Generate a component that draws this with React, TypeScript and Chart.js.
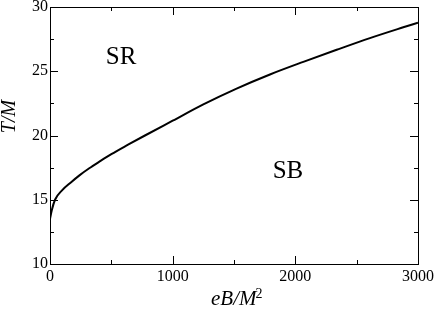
import { useEffect, useRef } from "react";
import { Chart, registerables } from "chart.js";

Chart.register(...registerables);

// Phase boundary T/M versus eB/M^2
const fieldValues = [0, 15, 41, 100, 170, 240, 320, 400, 500, 640, 774, 1000, 1250, 1521, 1793, 2065, 2337, 2608, 2880, 3000];
const temperatureValues = [13.5, 14.2, 15.0, 15.75, 16.35, 16.9, 17.45, 17.95, 18.55, 19.3, 20.0, 21.15, 22.42, 23.65, 24.75, 25.73, 26.67, 27.58, 28.42, 28.78];

const xMajorTicks = [0, 1000, 2000, 3000];
const xMinorTicks = [500, 1500, 2500];
const yMajorTicks = [10, 15, 20, 25, 30];
const yMinorTicks = [12.5, 17.5, 22.5, 27.5];

const regionNames = ["SR", "SB"];
const regionFields = [579, 1940];
const regionTemps = [25.56, 16.69];

const SERIF = "'Liberation Serif', 'Times New Roman', serif";

const framePlugin = {
  id: "frameAndLabels",
  afterDraw(chart: any) {
    const ctx = chart.ctx as CanvasRenderingContext2D;
    const { left, right, top, bottom } = chart.chartArea;
    const xs = chart.scales.x;
    const ys = chart.scales.y;
    ctx.save();
    ctx.strokeStyle = "#000";
    ctx.lineWidth = 1;
    ctx.strokeRect(left + 0.5, top + 0.5, right - left, bottom - top);

    const drawX = (v: number, len: number) => {
      const p = Math.round(xs.getPixelForValue(v)) + 0.5;
      ctx.beginPath();
      ctx.moveTo(p, bottom);
      ctx.lineTo(p, bottom - len);
      ctx.moveTo(p, top);
      ctx.lineTo(p, top + len);
      ctx.stroke();
    };
    const drawY = (v: number, len: number) => {
      const p = Math.round(ys.getPixelForValue(v)) + 0.5;
      ctx.beginPath();
      ctx.moveTo(left, p);
      ctx.lineTo(left + len, p);
      ctx.moveTo(right, p);
      ctx.lineTo(right - len, p);
      ctx.stroke();
    };
    xMajorTicks.forEach((v) => drawX(v, 8));
    xMinorTicks.forEach((v) => drawX(v, 4));
    yMajorTicks.forEach((v) => drawY(v, 8));
    yMinorTicks.forEach((v) => drawY(v, 4));

    // region labels
    ctx.fillStyle = "#000";
    ctx.font = `25px ${SERIF}`;
    ctx.textAlign = "center";
    ctx.textBaseline = "alphabetic";
    regionNames.forEach((name, i) => {
      ctx.fillText(name, xs.getPixelForValue(regionFields[i]), ys.getPixelForValue(regionTemps[i]));
    });

    // y axis title
    ctx.save();
    ctx.translate(15, 116.5);
    ctx.rotate(-Math.PI / 2);
    ctx.font = `italic 20px ${SERIF}`;
    ctx.textAlign = "center";
    ctx.textBaseline = "alphabetic";
    ctx.fillText("T/M", 0, 0);
    ctx.restore();

    // x axis title with superscript
    ctx.font = `italic 21px ${SERIF}`;
    ctx.textAlign = "left";
    ctx.textBaseline = "alphabetic";
    const main = "eB/M";
    const w = ctx.measureText(main).width;
    const startX = 211;
    ctx.fillText(main, startX, 305);
    ctx.font = `14px ${SERIF}`;
    ctx.fillText("2", startX + w - 1, 298);
    ctx.restore();
  },
};

export default function App() {
  const canvasRef = useRef<HTMLCanvasElement | null>(null);

  useEffect(() => {
    if (!canvasRef.current) return;
    const chart = new Chart(canvasRef.current, {
      type: "line",
      data: {
        datasets: [
          {
            data: fieldValues.map((x, i) => ({ x, y: temperatureValues[i] })),
            borderColor: "#000",
            borderWidth: 2,
            pointRadius: 0,
            fill: false,
            cubicInterpolationMode: "monotone",
          },
        ],
      },
      options: {
        responsive: false,
        animation: false,
        layout: { padding: { left: 0, top: 7, right: 18, bottom: 0 } },
        plugins: { legend: { display: false }, tooltip: { enabled: false } },
        scales: {
          x: {
            type: "linear",
            min: 0,
            max: 3000,
            grid: { display: false, drawTicks: false },
            border: { display: false },
            ticks: {
              stepSize: 1000,
              padding: 3,
              color: "#000",
              font: { family: SERIF, size: 16 },
              callback: (v: any) => String(v),
            },
            afterFit(scale: any) {
              scale.height = 50;
              scale.paddingLeft = 0;
              scale.paddingRight = 0;
            },
          },
          y: {
            type: "linear",
            min: 10,
            max: 30,
            grid: { display: false, drawTicks: false },
            border: { display: false },
            ticks: {
              stepSize: 5,
              padding: 2,
              color: "#000",
              font: { family: SERIF, size: 16 },
              callback: (v: any) => String(v),
            },
            afterFit(scale: any) {
              scale.width = 50;
              scale.paddingTop = 0;
              scale.paddingBottom = 0;
            },
          },
        },
      },
      plugins: [framePlugin],
    });
    return () => chart.destroy();
  }, []);

  return (
    <div style={{ position: "fixed", left: 0, top: 0, width: 436, height: 314, background: "#fff" }}>
      <canvas ref={canvasRef} width={436} height={314} style={{ display: "block" }} />
    </div>
  );
}
